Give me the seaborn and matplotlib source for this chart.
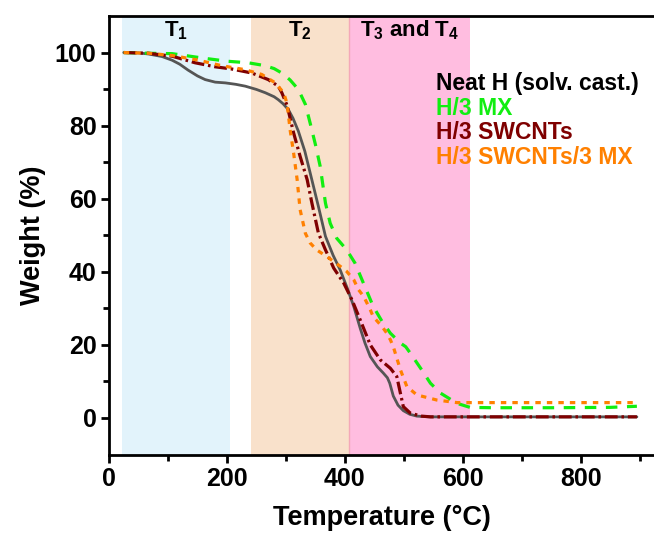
import matplotlib
matplotlib.use("Agg")
import matplotlib.pyplot as plt
import seaborn as sns
import pandas as pd

# ---------------- data ----------------
neat_T = [25, 50, 67, 90, 107, 120, 134, 150, 163, 180, 197, 215, 231, 250, 265, 280, 287, 295,
          304, 312, 321, 332, 341, 355, 367, 380, 392, 404, 415, 426, 434, 443, 455, 465, 472,
          476, 482, 490, 499, 510, 522, 545, 600, 700, 800, 895]
neat_W = [100, 99.9, 99.6, 98.9, 97.9, 96.8, 95.2, 93.6, 92.6, 91.9, 91.7, 91.3, 90.8, 89.9, 89.0,
          87.9, 87.1, 86.0, 84.4, 82.0, 78.5, 73.0, 67.1, 57.9, 49.7, 44.5, 40.5, 35.5, 30.5, 24.5,
          20.5, 16.8, 14.0, 12.3, 11.0, 9.5, 6.0, 3.5, 2.0, 1.0, 0.5, 0.3, 0.3, 0.3, 0.3, 0.3]

mx_T = [25, 67, 107, 163, 202, 236, 265, 280, 293, 307, 321, 333, 341, 350, 358, 367, 375, 386,
        403, 417, 429, 448, 463, 477, 494, 503, 511, 530, 545, 562, 590, 612, 650, 750, 850, 895]
mx_W = [100, 99.8, 99.7, 98.4, 97.6, 97.2, 96.4, 95.6, 94.4, 92.5, 89.9, 85.8, 80.7, 74.8, 68.9,
        58.8, 53.3, 49.2, 46.0, 42.4, 37.8, 30.5, 26.4, 23.2, 20.5, 19.5, 17.7, 13.2, 9.5, 6.8,
        4.0, 2.9, 2.8, 2.8, 2.9, 3.2]

sw_T = [25, 67, 107, 146, 180, 208, 242, 270, 287, 293, 302, 313, 324, 336, 344, 355, 367, 381,
        398, 412, 426, 443, 460, 477, 488, 494, 499, 511, 530, 545, 600, 700, 800, 895]
sw_W = [100, 99.8, 99.0, 97.2, 96.1, 95.5, 94.4, 92.6, 90.8, 89.0, 85.5, 78.0, 71.6, 65.2, 58.8,
        50.6, 46.0, 41.0, 36.9, 32.3, 26.8, 20.0, 15.9, 13.6, 11.3, 6.8, 3.1, 1.3, 0.5, 0.3, 0.3,
        0.3, 0.3, 0.3]

swmx_T = [25, 67, 107, 152, 191, 231, 259, 282, 296, 302, 307, 313, 319, 324, 333, 341, 352, 369,
          381, 392, 403, 415, 423, 432, 443, 448, 463, 471, 477, 482, 494, 505, 522, 556, 590, 650,
          750, 850, 895]
swmx_W = [100, 99.8, 99.2, 97.9, 96.4, 95.3, 94.0, 91.7, 89.0, 86.0, 78.9, 72.5, 65.2, 57.0, 50.5,
          47.9, 46.0, 44.2, 42.8, 41.5, 40.1, 37.8, 35.1, 33.2, 29.6, 27.7, 25.0, 23.2, 21.4, 19.5,
          13.2, 8.6, 6.3, 4.9, 4.2, 4.2, 4.2, 4.2, 4.2]

labels = ["Neat H (solv. cast.)", "H/3 MX", "H/3 SWCNTs", "H/3 SWCNTs/3 MX"]
region_labels = ["T$_1$", "T$_2$", "T$_3$ and T$_4$"]
region_bounds = [(22, 205), (241, 407), (407, 612)]

# ---------------- style ----------------
sns.set_theme(style="ticks")
plt.rcParams["font.family"] = ["Liberation Sans", "DejaVu Sans"]
plt.rcParams["font.weight"] = "bold"
plt.rcParams["mathtext.fontset"] = "custom"
plt.rcParams["mathtext.rm"] = "Liberation Sans:bold"
plt.rcParams["mathtext.it"] = "Liberation Sans:bold"
plt.rcParams["mathtext.bf"] = "Liberation Sans:bold"
for k in ["text.color", "axes.labelcolor", "xtick.color", "ytick.color", "axes.edgecolor"]:
    plt.rcParams[k] = "black"

fig = plt.figure(figsize=(6.54, 5.48), dpi=100)
ax = fig.add_axes([109 / 654, 1 - 454.5 / 548, 1 - 109 / 654, (454.5 - 16) / 548])

band_colors = ["#e2f3fb", "#f9e1cb", "#ffbde0"]
for (a, b), c in zip(region_bounds, band_colors):
    ax.axvspan(a, b, color=c, lw=0, zorder=0)
ax.axvline(407, color="#f4a8b8", lw=1, zorder=0.5)

colors = ["#555555", "#11ee11", "#7f0000", "#ff8000"]
styles = ["-", (0, (3.6, 3.0)), (0, (4.0, 1.2, 0.8, 1.2)), (0, (1.7, 1.9))]
widths = [2.0, 2.3, 2.3, 2.3]
series = [(neat_T, neat_W), (mx_T, mx_W), (sw_T, sw_W), (swmx_T, swmx_W)]
for (t, w), c, ls, lw in zip(series, colors, styles, widths):
    df = pd.DataFrame({"T": t, "W": w})
    sns.lineplot(data=df, x="T", y="W", ax=ax, color=c, linestyle=ls, lw=lw,
                 sort=False, estimator=None, zorder=3)

ax.set_xlim(0, 924)
ax.set_ylim(-10, 110)
ax.set_xticks([0, 200, 400, 600, 800])
ax.set_xticks([100, 300, 500, 700, 900], minor=True)
ax.set_yticks([0, 20, 40, 60, 80, 100])
ax.set_yticks([10, 30, 50, 70, 90], minor=True)
ax.tick_params(axis="both", which="major", length=6, width=2, labelsize=18, pad=3,
               colors="black")
ax.tick_params(axis="both", which="minor", length=4, width=2, colors="black")
for lbl in ax.get_xticklabels() + ax.get_yticklabels():
    lbl.set_fontweight("bold")
for s in ["left", "bottom", "top"]:
    ax.spines[s].set_linewidth(2)
    ax.spines[s].set_color("black")
ax.spines["right"].set_visible(False)

ax.set_xlabel("Temperature (°C)", fontsize=19.5, fontweight="bold", labelpad=10)
ax.set_ylabel("Weight (%)", fontsize=19.5, fontweight="bold", labelpad=6)

for (a, b), txt in zip(region_bounds, region_labels):
    ax.text((a + b) / 2, 106, txt, ha="center", va="center", fontsize=16, fontweight="bold")

text_colors = ["#000000", "#11ee11", "#7f0000", "#ff8000"]
for i, (lab, c) in enumerate(zip(labels, text_colors)):
    ax.text(555, 91.5 - i * 6.7, lab, color=c, fontsize=16.5, fontweight="bold",
            ha="left", va="center")

fig.savefig("out.png", dpi=100)
